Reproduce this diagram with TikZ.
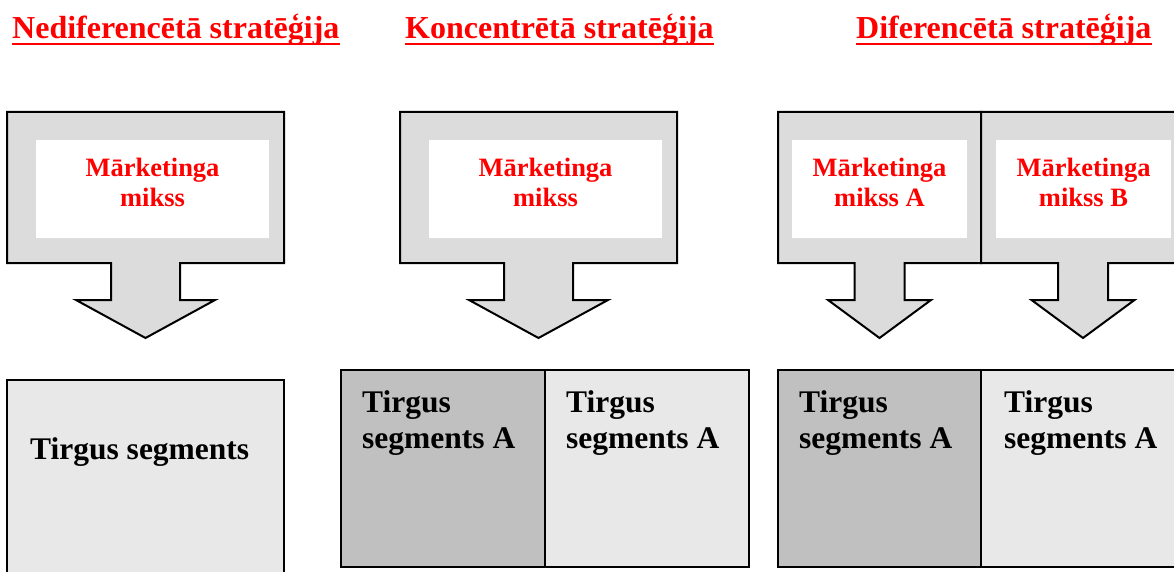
\documentclass[tikz,border=0pt]{standalone}
\usepackage{fontspec}
\setmainfont{Liberation Serif}
\definecolor{callgray}{HTML}{DCDCDC}
\definecolor{segdark}{HTML}{C0C0C0}
\definecolor{seglight}{HTML}{E8E8E8}
\definecolor{myred}{HTML}{FF0000}
\begin{document}
\begin{tikzpicture}[x=1pt,y=-1pt,
  titletext/.style={anchor=base west,inner sep=0pt,text=myred,font=\fontsize{32}{36}\selectfont\bfseries},
  uline/.style={draw=myred,line width=2.6pt},
  callout/.style={fill=callgray,draw=black,line width=2pt,line join=miter},
  mixtext/.style={anchor=base,inner sep=0pt,align=center,text=myred,font=\fontsize{26.5}{30}\selectfont\bfseries},
  segbox/.style={draw=black,line width=2pt},
  segtext/.style={anchor=base west,inner sep=0pt,align=left,font=\fontsize{31.5}{36}\selectfont\bfseries}]
\useasboundingbox (0,0) rectangle (1174,572);
\clip (0,0) rectangle (1174,572);
% titles
\node[titletext] (t1) at (12,39) {Nediferencētā stratēģija};
\node[titletext] (t2) at (405,39) {Koncentrētā stratēģija};
\node[titletext] (t3) at (856,39) {Diferencētā stratēģija};
\foreach \t in {t1,t2,t3}{
  \draw[uline] ([yshift=-5pt]\t.base west) -- ([yshift=-5pt]\t.base east);
}
% callout 1
\draw[callout] (7,112) -- (284,112) -- (284,263) -- (180,263) -- (180,300) -- (215,300) -- (145.5,338) -- (76,300) -- (111,300) -- (111,263) -- (7,263) -- cycle;
\fill[white] (36,140) rectangle (269,238);
\node[mixtext] (m1) at (152.5,206) {Mārketinga\\mikss};
% callout 2
\draw[callout] (400,112) -- (677,112) -- (677,263) -- (573,263) -- (573,300) -- (608,300) -- (538.5,338) -- (469,300) -- (504,300) -- (504,263) -- (400,263) -- cycle;
\fill[white] (429,140) rectangle (662,238);
\node[mixtext] (m2) at (545.5,206) {Mārketinga\\mikss};
% callout 3A
\draw[callout] (778,112) -- (981,112) -- (981,263) -- (904.5,263) -- (904.5,300) -- (931,300) -- (879.5,338) -- (828,300) -- (854.5,300) -- (854.5,263) -- (778,263) -- cycle;
\fill[white] (792,140) rectangle (967,238);
\node[mixtext] (m3) at (879.5,206) {Mārketinga\\mikss A};
% callout 3B
\draw[callout] (981,112) -- (1185,112) -- (1185,263) -- (1108,263) -- (1108,300) -- (1134.5,300) -- (1083,338) -- (1031.5,300) -- (1058,300) -- (1058,263) -- (981,263) -- cycle;
\fill[white] (996,140) rectangle (1171,238);
\node[mixtext] (m4) at (1083.5,206) {Mārketinga\\mikss B};
% segments
\draw[segbox,fill=seglight] (7,380) rectangle (284,590);
\node[segtext] (s1) at (30,459) {Tirgus segments};
\draw[segbox,fill=segdark] (341,370) rectangle (545,567);
\draw[segbox,fill=seglight] (545,370) rectangle (749,567);
\node[segtext] (s2) at (362,448) {Tirgus\\segments A};
\node[segtext] (s3) at (566,448) {Tirgus\\segments A};
\draw[segbox,fill=segdark] (778,370) rectangle (981,567);
\draw[segbox,fill=seglight] (981,370) rectangle (1190,567);
\node[segtext] (s4) at (799,448) {Tirgus\\segments A};
\node[segtext] (s5) at (1004,448) {Tirgus\\segments A};
\end{tikzpicture}
\end{document}
